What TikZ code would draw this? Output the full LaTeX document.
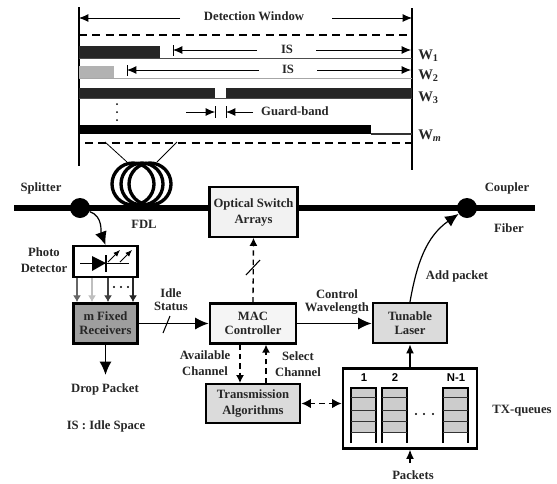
\documentclass[tikz,border=0pt]{standalone}
\usepackage{fontspec}
\setmainfont{Liberation Serif}
\setsansfont{Liberation Sans}
\usetikzlibrary{arrows.meta, calc}
\tikzset{
    lbl/.style={font=\fontsize{9.5}{10}\selectfont\bfseries, align=center, inner sep=0pt, text=black!85},
    wlbl/.style={font=\fontsize{11}{12}\selectfont\bfseries, anchor=west, inner sep=0pt, text=black!85},
    blockbox/.style={draw, line width=1.7pt, align=center, inner sep=0pt, font=\fontsize{9.5}{10.5}\selectfont\bfseries, text=black!85},
    arr/.style={-{Latex[length=7pt,width=6pt]}, line width=0.7pt},
    bigarr/.style={-{Latex[length=10pt,width=9pt]}, line width=0.9pt},
    dasharr/.style={-{Latex[length=6pt,width=6pt]}, line width=1pt, dash pattern=on 4pt off 3pt},
    bar/.style={fill=black!85, draw=none},
    rule/.style={line width=0.7pt, black!70},
    fibre/.style={line width=4.5pt},
    pdline/.style={-{Latex[length=5pt,width=6pt]}, line width=0.8pt}
}
\begin{document}
\begin{tikzpicture}[x=0.75pt, y=-0.75pt]
    \useasboundingbox (0,0) rectangle (557,483);
    % detection window
    \draw[line width=0.8pt] (79,7) -- (79,166);
    \draw[line width=0.8pt] (412,8) -- (412,170);
    \node[lbl] (win) at (254,16) {Detection Window};
    \coordinate (winl) at (79,18);
    \coordinate (winr) at (412,18);
    \draw[arr] (180,18) -- (winl);
    \draw[arr] (332,18) -- (winr);
    \draw[line width=0.8pt, dash pattern=on 6pt off 4pt] (79,35) -- (412,35);
    % wavelengths
    \fill[bar] (79,46) rectangle (160,58);
    \draw[rule] (79,58) -- (412,58);
    \draw (173,45) -- (173,56);
    \node[lbl] (is1) at (287,49) {IS};
    \draw[arr] (257,50) -- (173,50);
    \draw[arr] (316,50) -- (411,50);
    \fill[black!30] (79,66) rectangle (114,78);
    \draw[rule, black!35] (79,78) -- (412,78);
    \draw (127,65) -- (127,76);
    \node[lbl] (is2) at (288,69) {IS};
    \draw[arr] (259,70) -- (127,70);
    \draw[arr] (317,70) -- (411,70);
    \fill[bar] (79,88) rectangle (215,98);
    \fill[bar] (226,88) rectangle (412,98);
    \draw[rule] (79,98) -- (412,98);
    \foreach \y in {104,112,120} {
        \fill (117,\y) circle (1);
    }
    \draw (215,106) -- (215,118);
    \draw (226,106) -- (226,118);
    \draw[arr] (186,112) -- (215,112);
    \draw[arr] (253,112) -- (226,112);
    \node[lbl] (guard) at (295,111) {Guard-band};
    \fill[black] (79,125) rectangle (371,134);
    \draw[line width=1pt, black!80] (371,134) -- (412,134);
    \draw[line width=0.8pt, dash pattern=on 6pt off 4pt] (85,143) -- (412,143);
    \node[wlbl] (w1) at (418,56) {W\textsubscript{1}};
    \node[wlbl] (w2) at (418,76) {W\textsubscript{2}};
    \node[wlbl] (w3) at (418,98) {W\textsubscript{3}};
    \node[wlbl] (wm) at (418,136) {W\textsubscript{\textit{m}}};
    % fibre delay line
    \draw[line width=0.6pt] (105,142) -- (127,162);
    \draw[line width=0.6pt] (177,142) -- (157,162);
    \foreach \x in {133,142,150} {
        \draw[line width=2.5pt] (\x,184) ellipse (21 and 21);
    }
    % blocks
    \node[blockbox, fill=black!5, minimum width=66pt, minimum height=37pt, font=\fontsize{9.5}{12}\selectfont\bfseries] (switch) at (253.5,212) {Optical Switch\\Arrays};
    \node[blockbox, fill=white, minimum width=48pt, minimum height=23pt] (pd) at (105.5,261.5) {};
    \node[blockbox, fill=black!38, minimum width=48pt, minimum height=30pt] (rx) at (105.5,323.5) {m Fixed\\Receivers};
    \node[blockbox, fill=black!4, minimum width=65pt, minimum height=30pt] (mac) at (253,323.5) {MAC\\Controller};
    \node[blockbox, fill=black!14, minimum width=56pt, minimum height=30pt] (laser) at (410,323) {Tunable\\Laser};
    \node[blockbox, fill=black!14, minimum width=71pt, minimum height=29pt, font=\fontsize{9.5}{12}\selectfont\bfseries] (algo) at (253,403.5) {Transmission\\Algorithms};
    \node[blockbox, fill=white, minimum width=101pt, minimum height=60pt] (tx) at (410,408.5) {};
    % splitter and coupler
    \node[circle, fill=black, minimum size=15pt, inner sep=0pt] (split) at (80,208) {};
    \node[circle, fill=black, minimum size=15pt, inner sep=0pt] (coup) at (467,208) {};
    \coordinate (fibl) at (14,208);
    \coordinate (fibr) at (535,208);
    \draw[fibre] (fibl) -- (fibl -| switch.west);
    \draw[fibre] (fibr -| switch.east) -- (fibr);
    % labels
    \node[lbl] (splab) at (41,188) {Splitter};
    \node[lbl] (fdl) at (144,224) {FDL};
    \node[lbl] (cplab) at (507,188) {Coupler};
    \node[lbl] (fiber) at (509,228) {Fiber};
    \node[lbl] (pdlab) at (44,260) {Photo\\[2pt]Detector};
    \node[lbl] (idle) at (171,300) {Idle\\Status};
    \node[lbl] (ctrl) at (337,302) {Control\\Wavelength};
    \node[lbl] (addp) at (457,276) {Add packet};
    \node[lbl] (drop) at (105,389) {Drop Packet};
    \node[lbl] (isl) at (106,426) {IS : Idle Space};
    \node[lbl] (avail) at (205,363) {Available\\[2pt]Channel};
    \node[lbl] (sel) at (298,364) {Select\\[2pt]Channel};
    \node[lbl] (txl) at (522,411) {TX-queues};
    \node[lbl] (pkts) at (413,475) {Packets};
    % connectors
    \draw[bigarr] (split) to[out=-20, in=110] (pd.north);
    \draw[bigarr] (laser.north) to[out=80, in=215] (coup);
    \draw[bigarr] (rx.east |- mac.west) -- (mac.west);
    \draw[bigarr] (mac.east) -- (laser.west |- mac.east);
    \draw[bigarr, line width=1.2pt] (rx.south) -- (105.5,375);
    \draw[dasharr] (mac.north) -- (switch.south);
    \draw[dasharr] ($(mac.south)+(-13,0)$) -- ($(algo.north)+(-13,0)$);
    \draw[dasharr] ($(algo.north)+(13,0)$) -- ($(mac.south)+(13,0)$);
    \draw[dasharr, {Latex[length=7pt,width=7pt]}-{Latex[length=7pt,width=7pt]}] (algo.east) -- (tx.west |- algo.east);
    \draw[-{Latex[length=7pt,width=6pt]}, line width=1.3pt] (tx.north) -- (laser.south);
    \coordinate (pktin) at (410,463);
    \draw[arr, line width=1pt] (pktin) -- (tx.south);
    % slashes
    \draw[line width=0.8pt] (163,333) -- (170,316);
    \draw[line width=0.8pt] (246,275) -- (260,260);
    % photo detector
    \draw[line width=0.6pt] (80,263) -- (129,263);
    \fill (92,256) -- (106,263) -- (92,271) -- cycle;
    \draw[line width=0.8pt] (106,255) -- (106,272);
    \draw[-{Latex[length=5pt,width=4pt]}, line width=0.6pt] (108,262) -- (120,250);
    \draw[-{Latex[length=5pt,width=4pt]}, line width=0.6pt] (120,262) -- (132,250);
    \foreach \x/\c in {77/black!60, 92/black!25, 108/black!75, 133/black!85} {
        \draw[pdline, \c] (\x,278) -- (\x,302);
    }
    \foreach \x in {114,121,128} {
        \fill (\x,287) circle (1.2);
    }
    % queues
    \foreach \x/\n in {351/1, 382/2, 443/N-1} {
        \fill[black!20] (\x,388) rectangle +(25,44);
        \draw[line width=0.9pt] (\x,443) -- (\x,388) -- +(25,0) -- (\x+25,443);
        \foreach \y in {397,410,421,432} {
            \draw[line width=0.6pt, black!80] (\x,\y) -- +(25,0);
        }
        \node[font=\fontsize{8.5}{10}\selectfont\sffamily\bfseries, inner sep=0pt] (q\x) at (\x+13,378) {\n};
    }
    \foreach \x in {416,424,433} {
        \fill (\x,414) circle (1.2);
    }
\end{tikzpicture}
\end{document}
